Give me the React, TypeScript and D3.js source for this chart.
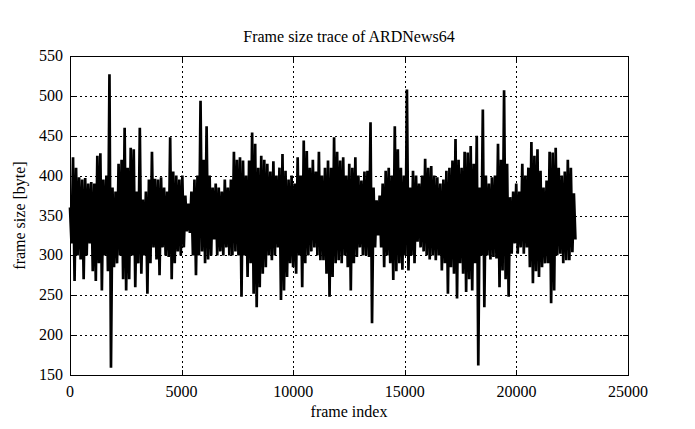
import React from 'react';
import * as d3 from 'd3';

const xTicks = [0, 5000, 10000, 15000, 20000, 25000];
const yTicks = [150, 200, 250, 300, 350, 400, 450, 500, 550];

// frame sizes, alternating local max / min, one value every FRAME_STEP frames
const FRAME_STEP = 68;

const trace0 = [
  360, 315, 423, 268, 410, 300, 398, 295, 395, 270, 397, 300, 390, 315, 392, 280, 390, 268,
  425, 290, 428, 256, 395, 300, 400, 280, 527, 159, 385, 285, 380, 290, 415, 300, 420, 270,
  460, 256, 410, 270, 435, 300, 433, 260, 380, 290, 460, 277, 370, 300, 380, 252, 395, 290,
];
const trace1 = [
  430, 310, 396, 295, 395, 275, 398, 310, 385, 300, 380, 298, 448, 270, 405, 290, 400, 305,
  395, 300, 400, 310, 375, 330, 365, 328, 380, 300, 395, 275, 400, 300, 494, 305, 420, 290,
  462, 295, 400, 300, 385, 320, 390, 300, 385, 305, 380, 300, 395, 310, 385, 300, 395, 300,
  430, 305,
];
const trace2 = [
  420, 300, 423, 248, 419, 300, 400, 273, 419, 290, 454, 252, 440, 235, 410, 260, 425, 277,
  420, 285, 415, 300, 405, 294, 418, 300, 400, 310, 410, 244, 427, 256, 406, 273, 395, 290,
  400, 285, 390, 277, 423, 300, 400, 260, 444, 290, 431, 300, 410, 305, 420, 310, 405, 300,
  430, 294,
];
const trace3 = [
  400, 294, 410, 277, 419, 248, 410, 273, 448, 290, 430, 294, 419, 290, 423, 300, 400, 285,
  415, 256, 410, 290, 423, 298, 400, 310, 394, 300, 405, 300, 406, 298, 467, 215, 385, 310,
  369, 325, 375, 310, 390, 285, 406, 300, 410, 290, 400, 269, 462, 280, 433, 290, 410, 282,
  400, 300,
];
const trace4 = [
  508, 281, 385, 300, 406, 290, 400, 317, 390, 310, 400, 305, 421, 300, 410, 295, 412, 300,
  400, 294, 398, 300, 390, 281, 395, 290, 406, 252, 410, 285, 419, 277, 446, 246, 420, 290,
  410, 277, 430, 254, 429, 270, 437, 256, 415, 290, 450, 162, 385, 300, 483, 235, 400, 300,
  390, 295,
];
const trace5 = [
  398, 298, 400, 296, 440, 260, 420, 281, 507, 270, 415, 248, 373, 302, 380, 315, 390, 302,
  380, 310, 415, 302, 400, 310, 410, 285, 442, 265, 425, 280, 433, 273, 406, 285, 385, 290,
  394, 290, 430, 240, 429, 256, 435, 300, 410, 302, 400, 290, 405, 294, 420, 294, 410, 304,
  378, 320,
];

const frameSizes = [...trace0, ...trace1, ...trace2, ...trace3, ...trace4, ...trace5];

const W = 695;
const H = 429;
const plot = { left: 70, right: 628, top: 56, bottom: 375 };
const font = '"Liberation Serif", "Times New Roman", serif';

export default function App() {
  const x = d3.scaleLinear().domain([0, 25000]).range([plot.left, plot.right]);
  const y = d3.scaleLinear().domain([150, 550]).range([plot.bottom, plot.top]);

  const line = d3
    .line<number>()
    .x((_, i) => x(i * FRAME_STEP))
    .y((d) => y(d));

  const innerX = xTicks.filter((t) => t > 0 && t < 25000);
  const innerY = yTicks.filter((t) => t > 150 && t < 550);

  return (
    <svg
      width={W}
      height={H}
      style={{ position: 'absolute', left: 0, top: 0, background: '#fff' }}
      fontFamily={font}
    >
      <rect x={0} y={0} width={W} height={H} fill="#fff" />

      {/* grid */}
      <g stroke="#000" strokeWidth={1} strokeDasharray="2,3" shapeRendering="crispEdges">
        {innerX.map((t) => (
          <line key={'gx' + t} x1={Math.round(x(t)) + 0.5} x2={Math.round(x(t)) + 0.5} y1={plot.top} y2={plot.bottom} />
        ))}
        {innerY.map((t) => (
          <line key={'gy' + t} x1={plot.left} x2={plot.right} y1={Math.round(y(t)) + 0.5} y2={Math.round(y(t)) + 0.5} />
        ))}
      </g>

      {/* ticks, mirrored */}
      <g stroke="#000" strokeWidth={1} shapeRendering="crispEdges">
        {xTicks.map((t) => (
          <g key={'tx' + t}>
            <line x1={Math.round(x(t)) + 0.5} x2={Math.round(x(t)) + 0.5} y1={plot.bottom} y2={plot.bottom - 5} />
            <line x1={Math.round(x(t)) + 0.5} x2={Math.round(x(t)) + 0.5} y1={plot.top} y2={plot.top + 5} />
          </g>
        ))}
        {yTicks.map((t) => (
          <g key={'ty' + t}>
            <line x1={plot.left} x2={plot.left + 5} y1={Math.round(y(t)) + 0.5} y2={Math.round(y(t)) + 0.5} />
            <line x1={plot.right} x2={plot.right - 5} y1={Math.round(y(t)) + 0.5} y2={Math.round(y(t)) + 0.5} />
          </g>
        ))}
      </g>

      {/* trace */}
      <path d={line(frameSizes) ?? ''} fill="none" stroke="#000" strokeWidth={2.7} strokeLinejoin="bevel" />

      {/* border */}
      <rect
        x={plot.left + 0.5}
        y={plot.top + 0.5}
        width={plot.right - plot.left}
        height={plot.bottom - plot.top}
        fill="none"
        stroke="#000"
        strokeWidth={1}
        shapeRendering="crispEdges"
      />

      {/* tick labels */}
      <g fontSize={16} fill="#000">
        {xTicks.map((t) => (
          <text key={'lx' + t} x={x(t)} y={397} textAnchor="middle">
            {t}
          </text>
        ))}
        {yTicks.map((t) => (
          <text key={'ly' + t} x={63} y={y(t) + 5} textAnchor="end">
            {t}
          </text>
        ))}
      </g>

      <text x={(plot.left + plot.right) / 2} y={42} textAnchor="middle" fontSize={16} fill="#000">
        Frame size trace of ARDNews64
      </text>
      <text x={(plot.left + plot.right) / 2} y={417} textAnchor="middle" fontSize={16} fill="#000">
        frame index
      </text>
      <text
        transform={`translate(25,${(plot.top + plot.bottom) / 2}) rotate(-90)`}
        textAnchor="middle"
        fontSize={16}
        fill="#000"
      >
        frame size [byte]
      </text>
    </svg>
  );
}
